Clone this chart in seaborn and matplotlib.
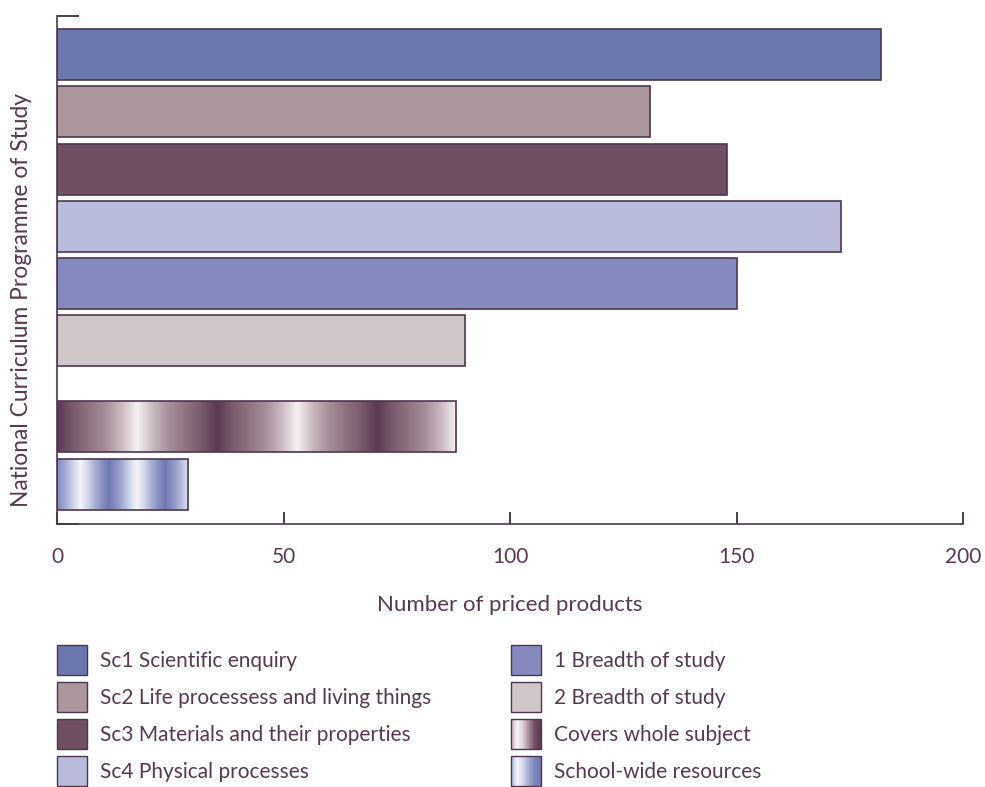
import numpy as np
import pandas as pd
import matplotlib
matplotlib.use("Agg")
import matplotlib.pyplot as plt
import seaborn as sns
from matplotlib.patches import Rectangle
from matplotlib.colors import LinearSegmentedColormap
from matplotlib.legend_handler import HandlerBase

# ---- data -------------------------------------------------------------
categories = [
    "Sc1 Scientific enquiry",
    "Sc2 Life processess and living things",
    "Sc3 Materials and their properties",
    "Sc4 Physical processes",
    "1 Breadth of study",
    "2 Breadth of study",
    "Covers whole subject",
    "School-wide resources",
]
counts = [182, 131, 148, 173, 150, 90, 88, 29]
# row slots along the category axis (a wider gap before the last two groups)
slots = [0, 1, 2, 3, 4, 5, 6.5, 7.5]
x_ticks = [0, 50, 100, 150, 200]

# ---- styling ----------------------------------------------------------
solid_colors = {
    "Sc1 Scientific enquiry": "#6b77ad",
    "Sc2 Life processess and living things": "#ab979b",
    "Sc3 Materials and their properties": "#6e4f63",
    "Sc4 Physical processes": "#b9bbdb",
    "1 Breadth of study": "#8589bd",
    "2 Breadth of study": "#d0c6c8",
    "Covers whole subject": "#9a7a8a",
    "School-wide resources": "#a0a8d0",
}
# cyclic shading for the two banded bars: (stops, period, phase origin)
band_whole = (["#5a3a55", "#7a5c6f", "#8f7482", "#a68e99", "#c9b8c1",
               "#f6f1f4", "#c9b8c1", "#a68e99", "#8f7482", "#7a5c6f",
               "#5a3a55"], 35.3, 0.0)
band_school = (["#7078b2", "#8a92c2", "#aab0d6", "#d4d7ea", "#f4f4fa",
                "#d4d7ea", "#aab0d6", "#8a92c2", "#7078b2"], 12.4, -1.0)
banded = {"Covers whole subject": band_whole,
          "School-wide resources": band_school}

legend_whole = ["#c4b0ba", "#f8f4f7", "#dccfd6", "#a88c9a", "#6e4f63", "#5b3b56"]
legend_school = ["#aab2d6", "#f5f5fb", "#d4d8ec", "#a4aad2", "#7e86bc", "#7078b2"]

text_color = "#573a52"
edge_color = "#4f3650"

sns.set_theme(style="white")
plt.rcParams["font.family"] = ["Lato", "DejaVu Sans"]
plt.rcParams["text.color"] = text_color
plt.rcParams["axes.labelcolor"] = text_color
plt.rcParams["xtick.color"] = text_color
plt.rcParams["ytick.color"] = text_color

W, H = 985, 787
fig = plt.figure(figsize=(W / 100, H / 100), dpi=100)
ax = fig.add_axes([57 / W, 1 - 524 / H, (963 - 57) / W, (524 - 16) / H])

df = pd.DataFrame({"category": categories, "count": counts, "slot": slots})

sns.barplot(data=df, x="count", y="slot", hue="category",
            hue_order=categories, palette=solid_colors, orient="h",
            native_scale=True, dodge=False, width=0.89, errorbar=None,
            saturation=1, edgecolor=edge_color, linewidth=1.2,
            legend=False, ax=ax)

y_top, y_bottom = -0.672, 8.198
ax.set_xlim(0, 200)
ax.set_ylim(y_bottom, y_top)

# banded fills for the two whole-subject bars, clipped to each bar
for patch in list(ax.patches):
    yc = patch.get_y() + patch.get_height() / 2
    idx = int(np.argmin([abs(yc - s) for s in slots]))
    cat = categories[idx]
    if cat not in banded:
        continue
    stops, period, origin = banded[cat]
    cmap = LinearSegmentedColormap.from_list(cat, stops)
    x0, x1 = patch.get_x(), patch.get_x() + patch.get_width()
    xs = np.linspace(x0, x1, 800)
    phase = ((xs - origin) / period) % 1.0
    img = cmap(phase)[np.newaxis, :, :]
    y0, y1 = patch.get_y(), patch.get_y() + patch.get_height()
    im = ax.imshow(img, extent=[x0, x1, y1, y0], aspect="auto",
                   interpolation="bilinear", zorder=patch.get_zorder() - 0.1)
    im.set_clip_path(patch)
    patch.set_facecolor("none")

ax.set_xlim(0, 200)
ax.set_ylim(y_bottom, y_top)
ax.set_aspect("auto")

# axes frame
for side in ["top", "right"]:
    ax.spines[side].set_visible(False)
for side in ["left", "bottom"]:
    ax.spines[side].set_color(edge_color)
    ax.spines[side].set_linewidth(1.2)

ax.set_xticks(x_ticks)
ax.set_xticklabels([str(t) for t in x_ticks])
ax.tick_params(axis="x", direction="in", length=8.5, width=1.2,
               color="#2b1f2a", pad=16.5, labelsize=15, bottom=True)
ax.set_yticks([y_top, y_bottom])
ax.set_yticklabels([])
ax.tick_params(axis="y", direction="in", length=16, width=1.2,
               color="#2b1f2a", left=True)

ax.set_xlabel("Number of priced products", fontsize=16, labelpad=20)
ax.set_ylabel("National Curriculum Programme of Study", fontsize=16.4)
ax.yaxis.set_label_coords(-0.028, 0.441)


class GradientHandler(HandlerBase):
    def __init__(self, stops):
        super().__init__()
        self.cmap = LinearSegmentedColormap.from_list("lg", stops)

    def create_artists(self, legend, orig_handle, xdescent, ydescent,
                       width, height, fontsize, trans):
        n = 40
        arts = []
        step = width / n
        for i in range(n):
            arts.append(Rectangle((-xdescent + i * step, -ydescent),
                                  step * 1.05, height,
                                  facecolor=self.cmap(i / (n - 1)),
                                  edgecolor="none", transform=trans))
        arts.append(Rectangle((-xdescent, -ydescent), width, height,
                              fill=False, edgecolor=edge_color,
                              linewidth=1.0, transform=trans))
        return arts


def handle_for(cat):
    return Rectangle((0, 0), 1, 1, facecolor=solid_colors[cat],
                     edgecolor=edge_color, linewidth=1.0)


handles = [handle_for(c) for c in categories]
handler_map = {handles[6]: GradientHandler(legend_whole),
               handles[7]: GradientHandler(legend_school)}

legend_kw = dict(loc="upper left", frameon=False, fontsize=15,
                 handlelength=1.44, handleheight=1.838, handletextpad=0.62,
                 labelspacing=0.34, borderpad=0, borderaxespad=0,
                 labelcolor=text_color, handler_map=handler_map)
fig.legend(handles[:4], categories[:4],
           bbox_to_anchor=(57 / W, 1 - 645 / H), **legend_kw)
fig.legend(handles[4:], categories[4:],
           bbox_to_anchor=(511 / W, 1 - 645 / H), **legend_kw)

fig.savefig("out.png", dpi=100)
